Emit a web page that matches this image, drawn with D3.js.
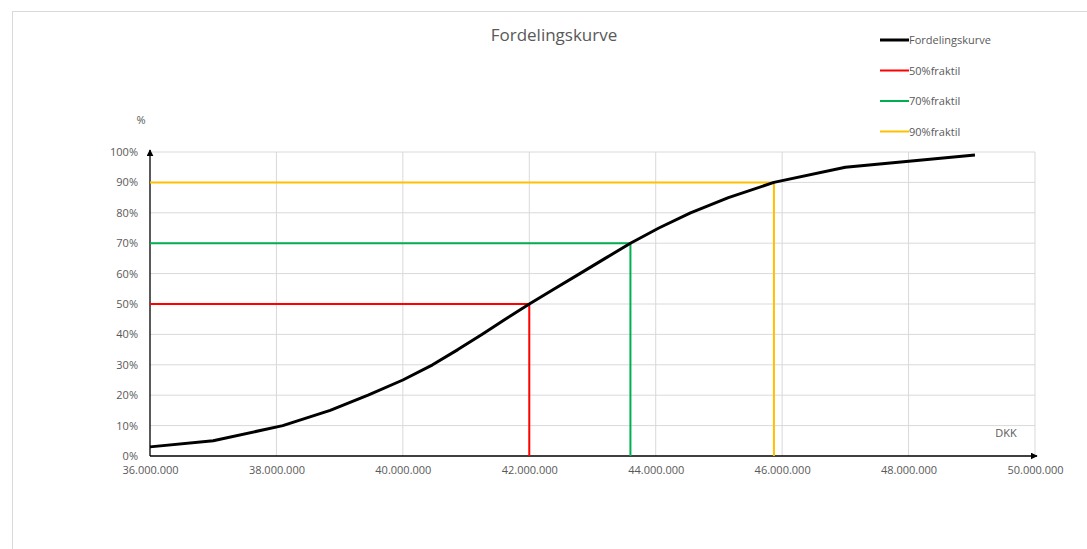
<!DOCTYPE html>
<html>
<head>
<meta charset="utf-8">
<script src="https://cdn.jsdelivr.net/npm/d3@7"></script>
<style>
  body { margin: 0; background: #fff; }
  text { font-family: "Open Sans", "Noto Sans", sans-serif; fill: #595959; }
</style>
</head>
<body>
<svg id="chart"></svg>
<script>
// distribution curve: amount (DKK) -> cumulative share (%)
const amounts = [36000000, 37000000, 38100000, 38850000, 39450000, 40000000, 40470000, 40870000,
  41250000, 41620000, 42000000, 42400000, 42800000, 43200000, 43600000, 44050000, 44550000,
  45150000, 45870000, 47000000, 49050000];
const shares = [3, 5, 10, 15, 20, 25, 30, 35, 40, 45, 50, 55, 60, 65, 70, 75, 80, 85, 90, 95, 99];

// fractiles
const fractileNames = ["50%fraktil", "70%fraktil", "90%fraktil"];
const fractileShares = [50, 70, 90];
const fractileAmounts = [42000000, 43600000, 45870000];
const fractileColors = ["#ff0000", "#00b050", "#ffc000"];

const xTicks = [36000000, 38000000, 40000000, 42000000, 44000000, 46000000, 48000000, 50000000];
const yTicks = [0, 10, 20, 30, 40, 50, 60, 70, 80, 90, 100];

const width = 1087, height = 549;
const margin = {top: 152, right: 52, bottom: 93, left: 150};

const svg = d3.select("#chart").attr("width", width).attr("height", height);

// chart area border
svg.append("rect")
  .attr("x", 12.5).attr("y", 11.5)
  .attr("width", width + 20).attr("height", height + 20)
  .attr("fill", "none").attr("stroke", "#d9d9d9");

const x = d3.scaleLinear().domain([36000000, 50000000]).range([margin.left, width - margin.right]);
const y = d3.scaleLinear().domain([0, 100]).range([height - margin.bottom, margin.top]);

const fmt = d => d3.format(",")(d).replace(/,/g, ".");

// gridlines
svg.append("g").selectAll("line.h")
  .data(yTicks.slice(1))
  .join("line")
  .attr("x1", x(36000000)).attr("x2", x(50000000))
  .attr("y1", d => y(d)).attr("y2", d => y(d))
  .attr("stroke", "#d9d9d9").attr("stroke-width", 1);
svg.append("g").selectAll("line.v")
  .data(xTicks.slice(1))
  .join("line")
  .attr("x1", d => x(d)).attr("x2", d => x(d))
  .attr("y1", y(0)).attr("y2", y(100))
  .attr("stroke", "#d9d9d9").attr("stroke-width", 1);

// axes (labels only, lines drawn separately with arrows)
const yAxis = d3.axisLeft(y).tickValues(yTicks).tickFormat(d => d + "%").tickSize(0).tickPadding(12);
const xAxis = d3.axisBottom(x).tickValues(xTicks).tickFormat(fmt).tickSize(0).tickPadding(10);

svg.append("g").attr("transform", `translate(${margin.left},0)`).call(yAxis)
  .call(g => g.select(".domain").remove())
  .selectAll("text").style("font-size", "11px").attr("fill", "#595959");
svg.append("g").attr("transform", `translate(0,${y(0)})`).call(xAxis)
  .call(g => g.select(".domain").remove())
  .selectAll("text").style("font-size", "11px").attr("fill", "#595959");

// arrow heads
const defs = svg.append("defs");
defs.append("marker")
  .attr("id", "arrow")
  .attr("viewBox", "0 0 10 10")
  .attr("refX", 9).attr("refY", 5)
  .attr("markerWidth", 7).attr("markerHeight", 7)
  .attr("markerUnits", "userSpaceOnUse")
  .attr("orient", "auto")
  .append("path").attr("d", "M0,0 L10,5 L0,10 z").attr("fill", "#000");

svg.append("line")
  .attr("x1", x(36000000)).attr("x2", x(50000000) + 2)
  .attr("y1", y(0)).attr("y2", y(0))
  .attr("stroke", "#000").attr("stroke-width", 1.3)
  .attr("marker-end", "url(#arrow)");
svg.append("line")
  .attr("x1", x(36000000)).attr("x2", x(36000000))
  .attr("y1", y(0)).attr("y2", y(100) - 2)
  .attr("stroke", "#000").attr("stroke-width", 1.3)
  .attr("marker-end", "url(#arrow)");

// fractile lines
const fractiles = fractileNames.map((name, i) => ({
  name, share: fractileShares[i], amount: fractileAmounts[i], color: fractileColors[i]
}));
svg.append("g").selectAll("path")
  .data(fractiles)
  .join("path")
  .attr("d", d => d3.line()([[x(36000000), y(d.share)], [x(d.amount), y(d.share)], [x(d.amount), y(0)]]))
  .attr("fill", "none")
  .attr("stroke", d => d.color)
  .attr("stroke-width", 2);

// distribution curve
const line = d3.line().x((d, i) => x(amounts[i])).y(d => y(d));
svg.append("path")
  .datum(shares)
  .attr("d", line)
  .attr("fill", "none")
  .attr("stroke", "#000")
  .attr("stroke-width", 3)
  .attr("stroke-linejoin", "round");

// title and axis titles
svg.append("text").attr("x", 554).attr("y", 41)
  .attr("text-anchor", "middle").style("font-size", "17px").text("Fordelingskurve");
svg.append("text").attr("x", 141).attr("y", 124)
  .attr("text-anchor", "middle").style("font-size", "11px").text("%");
svg.append("text").attr("x", 1006).attr("y", 437)
  .attr("text-anchor", "middle").style("font-size", "11px").text("DKK");

// legend
const legendItems = [{name: "Fordelingskurve", color: "#000", w: 3}]
  .concat(fractiles.map(d => ({name: d.name, color: d.color, w: 2})));
const legend = svg.append("g").selectAll("g")
  .data(legendItems)
  .join("g")
  .attr("transform", (d, i) => `translate(880,${40 + i * 30.5})`);
legend.append("line")
  .attr("x1", 0).attr("x2", 29).attr("y1", 0).attr("y2", 0)
  .attr("stroke", d => d.color).attr("stroke-width", d => d.w);
legend.append("text")
  .attr("x", 29).attr("y", 4)
  .style("font-size", "11px")
  .text(d => d.name);
</script>
</body>
</html>
